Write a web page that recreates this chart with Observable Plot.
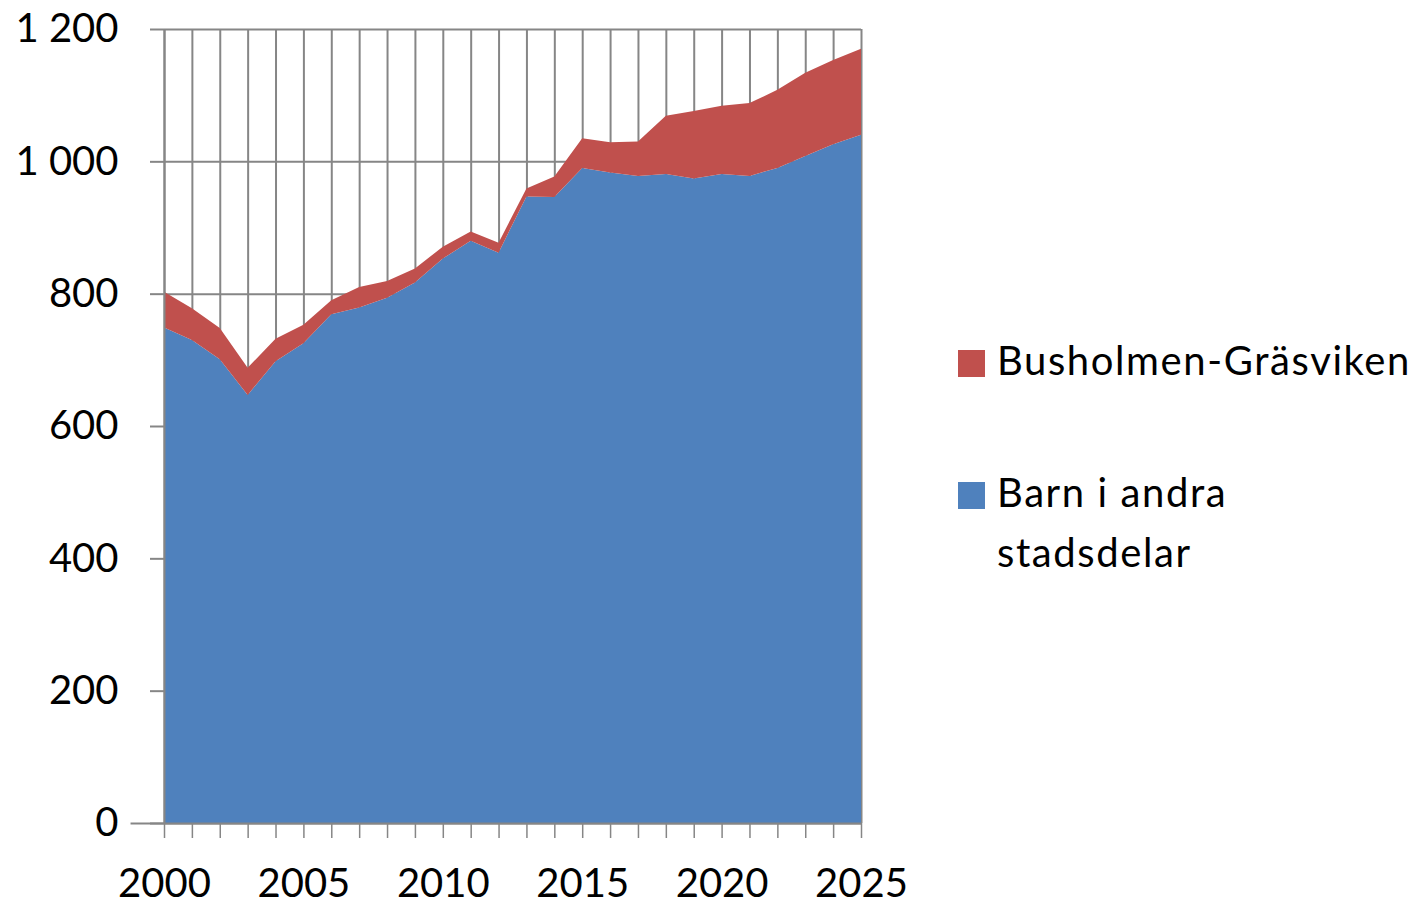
<!DOCTYPE html>
<html><head><meta charset="utf-8">
<script src="https://cdn.jsdelivr.net/npm/d3@7"></script>
<script src="https://cdn.jsdelivr.net/npm/@observablehq/plot@0.6"></script>
<style>
body{margin:0;background:#fff;font-family:Lato,"Open Sans",sans-serif;}
#wrap{position:relative;width:1427px;height:906px;}
.leg{position:absolute;left:958px;font-size:40px;color:#000;line-height:60px;letter-spacing:1.6px;}
.sw{position:absolute;left:0;width:27px;height:27px;}
.lt{position:absolute;left:39px;white-space:nowrap;}
</style>
</head><body><div id="wrap"></div>
<script>
const years = [2000,2001,2002,2003,2004,2005,2006,2007,2008,2009,2010,2011,2012,2013,2014,2015,2016,2017,2018,2019,2020,2021,2022,2023,2024,2025];
const barnAndra = [749,730,701,647,698,725,769,779,794,817,853,880,862,947,946,990,983,978,981,974,981,978,990,1008,1026,1040];
const busholmen = [54,48,47,41,34,28,21,31,25,21,18,14,15,12,31,45,46,52,88,102,103,110,118,126,127,130];
const seriesNames = ["Barn i andra stadsdelar","Busholmen-Gräsviken"];
const seriesColors = ["#4F81BD","#C0504D"];
const yTicks = [0,200,400,600,800,1000,1200];
const xLabels = [2000,2005,2010,2015,2020,2025];

const data = [];
years.forEach((y,i)=>data.push({year:y, value:barnAndra[i], series:seriesNames[0]}));
years.forEach((y,i)=>data.push({year:y, value:busholmen[i], series:seriesNames[1]}));

const fmt = d => d >= 1000 ? Math.floor(d/1000) + "\u00a0" + String(d%1000).padStart(3,"0") : String(d);
const grid = "#868686";

const chart = Plot.plot({
  width: 1427, height: 906,
  marginLeft: 164, marginRight: 566, marginTop: 29, marginBottom: 83,
  style: {fontFamily: "Lato, 'Open Sans', sans-serif", background: "#fff"},
  x: {type: "linear", domain: [2000, 2025]},
  y: {domain: [0, 1200]},
  color: {domain: seriesNames, range: seriesColors},
  marks: [
    Plot.gridX(years, {stroke: grid, strokeOpacity: 1, strokeWidth: 2}),
    Plot.gridY(yTicks, {stroke: grid, strokeOpacity: 1, strokeWidth: 2}),
    Plot.areaY(data, {x: "year", y: "value", fill: "series", order: seriesNames}),
    Plot.ruleX([2000], {stroke: grid, strokeWidth: 2}),
    Plot.ruleY([0], {stroke: grid, strokeWidth: 2, x1: 1998.8, x2: 2025}),
    Plot.axisY({ticks: yTicks, tickSize: 14, tickPadding: 32, tickFormat: fmt, fontSize: 40, fill: "#000", stroke: grid, strokeWidth: 2, label: null}),
    Plot.axisX({ticks: years, tickSize: 15, tickPadding: 30, tickFormat: d => xLabels.includes(d) ? String(d) : "", fontSize: 40, fill: "#000", stroke: grid, strokeWidth: 1.5, label: null})
  ]
});
const wrap = document.getElementById("wrap");
wrap.appendChild(chart);

const leg = document.createElement("div");
leg.innerHTML = `
<div class="leg" style="top:330px"><div class="sw" style="top:20px;background:${seriesColors[1]}"></div><div class="lt" style="top:0">${seriesNames[1]}</div></div>
<div class="leg" style="top:462px"><div class="sw" style="top:20px;background:${seriesColors[0]}"></div><div class="lt" style="top:0">Barn i andra<br>stadsdelar</div></div>`;
wrap.appendChild(leg);
</script>
</body></html>
